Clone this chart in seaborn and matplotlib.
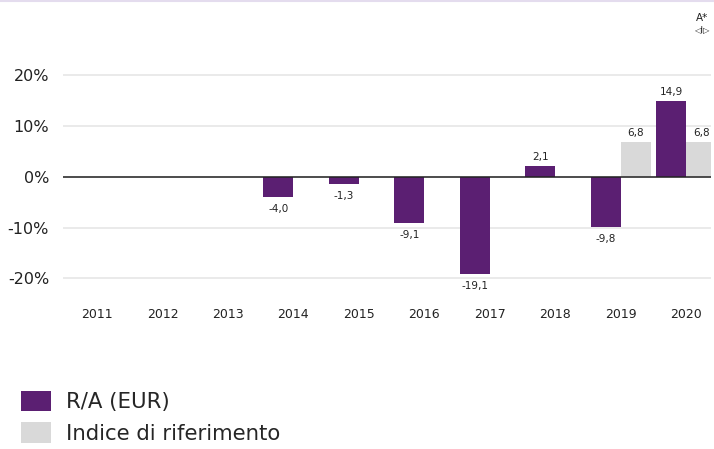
import numpy as np
import pandas as pd
from matplotlib import pyplot as plt
from matplotlib.patches import Patch
from matplotlib.lines import Line2D
import seaborn as sns

years = ["2011", "2012", "2013", "2014", "2015", "2016", "2017", "2018", "2019", "2020"]
fund = [np.nan, np.nan, np.nan, -4.0, -1.3, -9.1, -19.1, 2.1, -9.8, 14.9]
index = [np.nan, np.nan, np.nan, np.nan, np.nan, np.nan, np.nan, np.nan, 6.8, 6.8]
series_names = ["R/A (EUR)", "Indice di riferimento"]
colors = ["#5b1f72", "#d9d9d9"]

df = pd.DataFrame({
    "anno": years * 2,
    "valore": fund + index,
    "serie": [series_names[0]] * len(years) + [series_names[1]] * len(years),
})

sns.set_theme(style="white")
plt.rcParams["font.family"] = ["DejaVu Sans"]

fig = plt.figure(figsize=(7.14, 4.49), dpi=100)
W, H = 714, 449
ax = fig.add_axes([63 / W, 1 - 290 / H, (711 - 63) / W, (290 - 60) / H])

sns.barplot(data=df, x="anno", y="valore", hue="serie", palette=colors,
            width=0.92, ax=ax, legend=False, saturation=1, zorder=3,
            linewidth=0, edgecolor="none")

ax.set_xlim(-0.52, 9.38)
ax.set_ylim(-22.27, 23.05)
ax.set_yticks([-20, -10, 0, 10, 20])
ax.set_yticklabels(["-20%", "-10%", "0%", "10%", "20%"])
ax.yaxis.grid(True, color="#e6e6e6", linewidth=1.2, zorder=0)
ax.xaxis.grid(False)
ax.axhline(0, color="#222222", linewidth=1.1, zorder=4)
for s in ax.spines.values():
    s.set_visible(False)
ax.tick_params(axis="both", length=0, colors="#222222")
ax.tick_params(axis="x", pad=13, labelsize=9)
ax.tick_params(axis="y", pad=10, labelsize=11.5)
ax.set_xlabel("")
ax.set_ylabel("")

for cont in ax.containers:
    for bar in cont:
        h = bar.get_height()
        if np.isnan(h):
            continue
        x = bar.get_x() + bar.get_width() / 2
        lab = f"{h:.1f}".replace(".", ",")
        if h >= 0:
            ax.annotate(lab, (x, h), xytext=(0, 3), textcoords="offset points",
                        ha="center", va="bottom", fontsize=7.5, color="#222222")
        else:
            ax.annotate(lab, (x, h), xytext=(0, -5), textcoords="offset points",
                        ha="center", va="top", fontsize=7.5, color="#222222")

handles = [Patch(facecolor=c, edgecolor="none") for c in colors]
fig.legend(handles, series_names, loc="upper left", bbox_to_anchor=(12 / W, 1 - 382 / H),
           frameon=False, fontsize=15.3, handlelength=1.45, handleheight=1.1,
           handletextpad=0.68, labelspacing=0.48, borderaxespad=0)

fig.text(702 / W, 1 - 18 / H, "A*", ha="center", va="center", fontsize=7.5, color="#222222")
fig.text(702 / W, 1 - 30 / H, "◁I▷", ha="center", va="center", fontsize=6, color="#222222")
fig.add_artist(Line2D([0, 1], [1 - 0.5 / H, 1 - 0.5 / H], color="#e4dcee", linewidth=1.5))

fig.savefig("out.png", dpi=100)
